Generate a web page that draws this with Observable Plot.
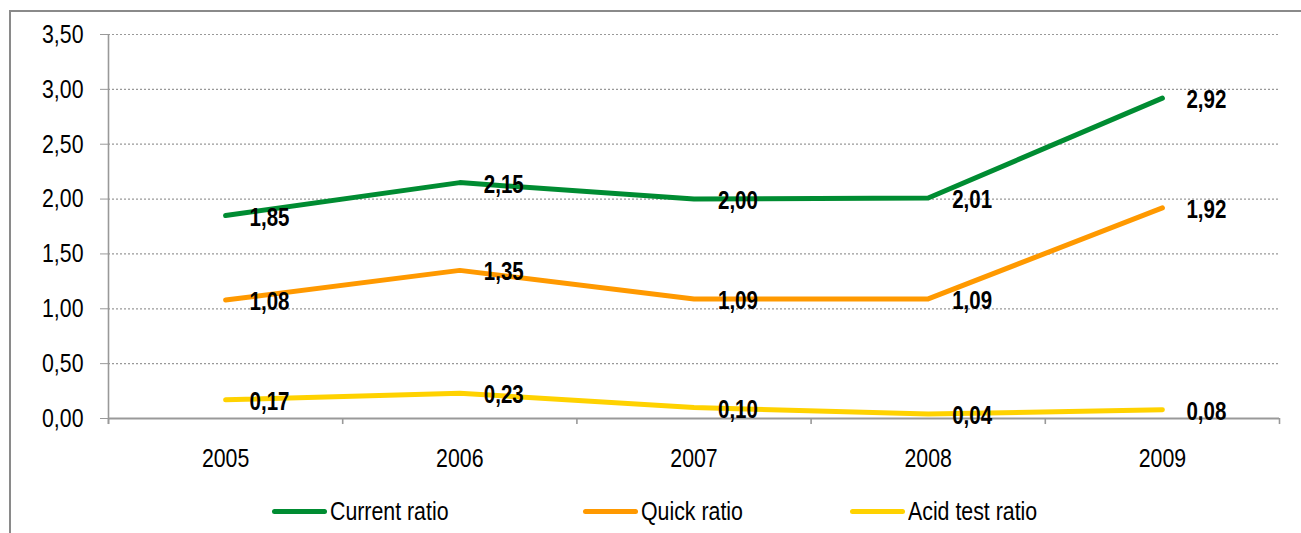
<!DOCTYPE html>
<html>
<head>
<meta charset="utf-8">
<script src="https://cdn.jsdelivr.net/npm/d3@7"></script>
<script src="https://cdn.jsdelivr.net/npm/@observablehq/plot@0.6"></script>
<style>
  html, body { margin: 0; padding: 0; background: #fff; }
  #wrap { position: relative; width: 1301px; height: 533px; overflow: hidden; font-family: "Liberation Sans", Arial, sans-serif; }
  #frame { position: absolute; left: 9px; top: 10px; width: 1400px; height: 600px; border-left: 2px solid #8a8a8a; border-top: 2px solid #8a8a8a; }
  #chart { position: absolute; left: 0; top: 0; }
  #legend { position: absolute; left: 0; top: 495px; width: 1301px; height: 32px; }
  .item { position: absolute; top: 0; height: 32px; display: flex; align-items: center; font-size: 26px; color: #000; white-space: nowrap; }
  .sw { width: 55px; height: 5px; border-radius: 3px; margin-right: 3px; flex: none; }
  .lt { display: inline-block; transform: scaleX(0.82); transform-origin: left center; }
</style>
</head>
<body>
<div id="wrap">
  <div id="frame"></div>
  <div id="chart"></div>
  <div id="legend"></div>
</div>
<script>
const years = [2005, 2006, 2007, 2008, 2009];
const seriesNames = ["Current ratio", "Quick ratio", "Acid test ratio"];
const currentRatio = [1.85, 2.15, 2.00, 2.01, 2.92];
const quickRatio = [1.08, 1.35, 1.09, 1.09, 1.92];
const acidTestRatio = [0.17, 0.23, 0.10, 0.04, 0.08];
const colors = ["#008c32", "#ff9900", "#ffd200"];
const yTicks = [0, 0.5, 1, 1.5, 2, 2.5, 3, 3.5];

const seriesValues = [currentRatio, quickRatio, acidTestRatio];
const data = [];
seriesNames.forEach((name, i) => {
  years.forEach((yr, j) => data.push({ series: name, year: yr, value: seriesValues[i][j] }));
});
const fmt = v => d3.format(".2f")(v).replace(".", ",");
const boundaries = [years[0] - 0.5, ...years.map(y => y + 0.5)];
const xMin = years[0] - 0.5, xMax = years[years.length - 1] + 0.5;
const font = '"Liberation Sans", Arial, sans-serif';
const narrow = 0.82;

const chart = Plot.plot({
  width: 1301,
  height: 476,
  marginTop: 34,
  marginBottom: 58,
  marginLeft: 108,
  marginRight: 22,
  style: { fontFamily: font, background: "transparent", color: "#000" },
  x: { domain: [xMin, xMax] },
  y: { domain: [0, 3.5] },
  color: { domain: seriesNames, range: colors },
  marks: [
    Plot.ruleY(yTicks.filter(t => t > 0), { x1: xMin, x2: xMax, stroke: "#999", strokeWidth: 1.2, strokeDasharray: "2,2" }),
    Plot.ruleX([xMin], { y1: -0.055, y2: 3.5, stroke: "#999", strokeWidth: 1.6 }),
    Plot.ruleX(boundaries, { y1: -0.055, y2: 0, stroke: "#999", strokeWidth: 1.6 }),
    Plot.ruleY([0], { x1: xMin, x2: xMax, stroke: "#999", strokeWidth: 2 }),
    Plot.axisY({ ticks: yTicks, tickFormat: fmt, tickSize: 8, tickPadding: 17, stroke: "#999", fill: "#000", fontSize: 26, label: null }),
    Plot.axisX({ ticks: years, tickFormat: d => String(d), tickSize: 0, tickPadding: 30, fill: "#000", fontSize: 26, label: null }),
    Plot.line(data, { x: "year", y: "value", z: "series", stroke: "series", strokeWidth: 5, strokeLinecap: "round", strokeLinejoin: "round" }),
    Plot.text(data, { x: "year", y: "value", text: d => fmt(d.value), textAnchor: "start", dx: 24, dy: 2, fontSize: 25, fontWeight: "bold", fill: "#000" })
  ]
});
// emulate a narrow typeface by compressing each text horizontally around its anchor
chart.querySelectorAll("text").forEach(t => {
  const tr = t.getAttribute("transform") || "";
  const x = parseFloat(t.getAttribute("x") || "0") || 0;
  t.setAttribute("transform", `${tr} translate(${x},0) scale(${narrow},1) translate(${-x},0)`);
});
document.getElementById("chart").appendChild(chart);

const legendLeft = [272, 583, 850];
const legend = document.getElementById("legend");
seriesNames.forEach((name, i) => {
  const it = document.createElement("div");
  it.className = "item";
  it.style.left = legendLeft[i] + "px";
  const sw = document.createElement("div");
  sw.className = "sw";
  sw.style.background = colors[i];
  const tx = document.createElement("span");
  tx.className = "lt";
  tx.textContent = name;
  it.appendChild(sw); it.appendChild(tx);
  legend.appendChild(it);
});
</script>
</body>
</html>
